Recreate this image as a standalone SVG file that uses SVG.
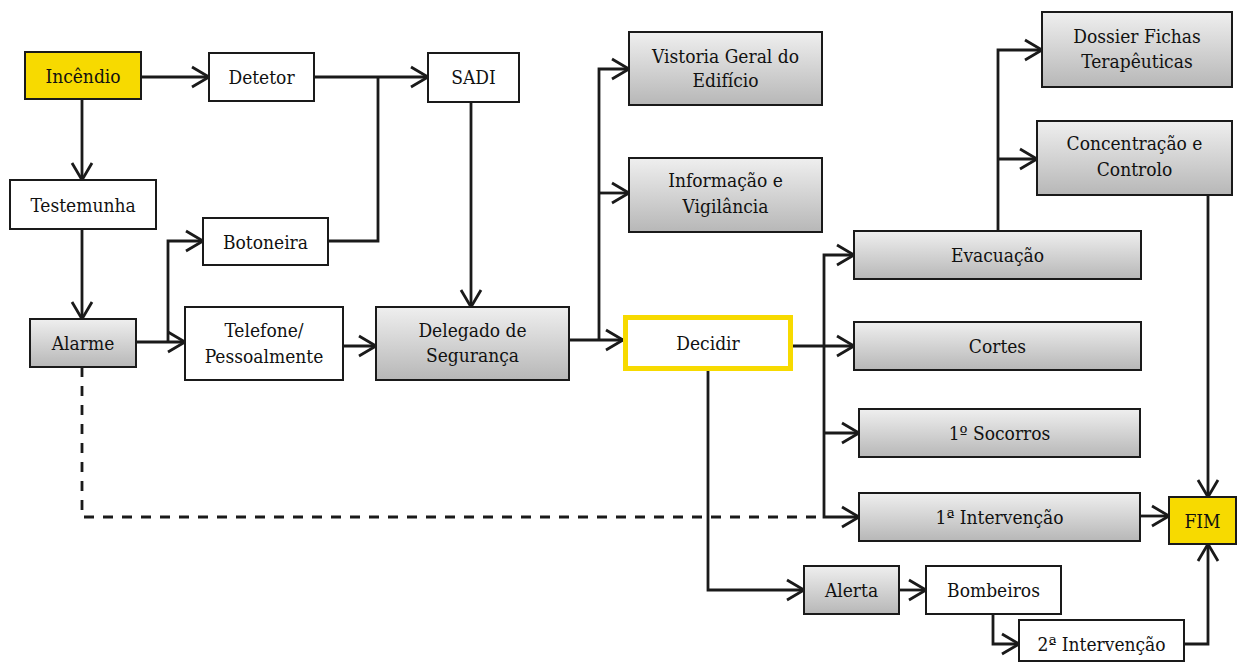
<svg xmlns="http://www.w3.org/2000/svg" width="1237" height="663" viewBox="0 0 1237 663">
<defs>
<linearGradient id="grey" x1="0" y1="0" x2="0" y2="1">
<stop offset="0" stop-color="#efefef"/>
<stop offset="1" stop-color="#b7b7b7"/>
</linearGradient>
<marker id="arr" viewBox="-2 -2 22 24" refX="17" refY="10" markerWidth="22" markerHeight="24" markerUnits="userSpaceOnUse" orient="auto" overflow="visible">
<path d="M0,0 L17,10 L0,20" fill="none" stroke="#1a1a1a" stroke-width="2.8"/>
</marker>
</defs>
<style>
.box{stroke:#1a1a1a;stroke-width:2;fill:#ffffff}
.g{fill:url(#grey)}
.y{fill:#f7da00}
.t{font-family:'DejaVu Serif Condensed','DejaVu Serif',serif;font-stretch:semi-condensed;font-size:19px;fill:#111;text-anchor:middle}
.c{fill:none;stroke:#1a1a1a;stroke-width:2.8}
.a{marker-end:url(#arr)}
.d{stroke-dasharray:10 9}
</style>
<rect width="1237" height="663" fill="#ffffff"/>
<g id="connectors">
<path class="c a" d="M141,77 H209"/>
<path class="c a" d="M82,99 V180"/>
<path class="c a" d="M82,229 V319"/>
<path class="c a" d="M314,77 H428"/>
<path class="c" d="M328,241 H378 V77"/>
<path class="c a" d="M136,342 H185"/>
<path class="c a" d="M168,342 V241 H203"/>
<path class="c a" d="M343,346 H376"/>
<path class="c a" d="M471,102 V307"/>
<path class="c a" d="M569,340 H623"/>
<path class="c a" d="M599,340 V69 H629"/>
<path class="c a" d="M599,193 H629"/>
<path class="c a" d="M793,346 H854"/>
<path class="c a" d="M824,346 V255 H854"/>
<path class="c a" d="M824,346 V517 H859"/>
<path class="c a" d="M824,433 H859"/>
<path class="c a" d="M998,231 V50 H1042"/>
<path class="c a" d="M998,159 H1037"/>
<path class="c a" d="M1208,195 V497"/>
<path class="c a" d="M1140,516 H1169"/>
<path class="c a" d="M708,371 V590 H804"/>
<path class="c a" d="M899,590 H926"/>
<path class="c a" d="M993,614 V644 H1019"/>
<path class="c a" d="M1184,644 H1208 V544"/>
<path class="c d" d="M82,367 V517 H824"/>
</g>
<g id="incendio"><rect class="box y" x="25" y="52" width="116" height="47"/><text class="t" x="83" y="83">Incêndio</text></g>
<g id="detetor"><rect class="box" x="209" y="53" width="105" height="48"/><text class="t" x="261.5" y="84">Detetor</text></g>
<g id="sadi"><rect class="box" x="428" y="53" width="91" height="49"/><text class="t" x="473.5" y="84">SADI</text></g>
<g id="testemunha"><rect class="box" x="10" y="180" width="146" height="49"/><text class="t" x="83" y="212">Testemunha</text></g>
<g id="botoneira"><rect class="box" x="203" y="218" width="125" height="47"/><text class="t" x="265.5" y="248.5">Botoneira</text></g>
<g id="alarme"><rect class="box g" x="30" y="319" width="106" height="48"/><text class="t" x="83" y="350">Alarme</text></g>
<g id="telefone"><rect class="box" x="185" y="307" width="158" height="73"/><text class="t" x="264" y="337">Telefone/</text><text class="t" x="264" y="363">Pessoalmente</text></g>
<g id="delegado"><rect class="box g" x="376" y="307" width="193" height="73"/><text class="t" x="472.5" y="337">Delegado de</text><text class="t" x="472.5" y="362">Segurança</text></g>
<g id="vistoria"><rect class="box g" x="629" y="32" width="193" height="73"/><text class="t" x="725.5" y="63">Vistoria Geral do</text><text class="t" x="725.5" y="87">Edifício</text></g>
<g id="informacao"><rect class="box g" x="629" y="158" width="193" height="74"/><text class="t" x="725.5" y="187">Informação e</text><text class="t" x="725.5" y="213">Vigilância</text></g>
<g id="decidir"><rect x="625.5" y="317.5" width="165" height="51" fill="#ffffff" stroke="#f7da00" stroke-width="5"/><text class="t" x="708" y="350">Decidir</text></g>
<g id="dossier"><rect class="box g" x="1042" y="12" width="190" height="75"/><text class="t" x="1137" y="43">Dossier Fichas</text><text class="t" x="1137" y="68">Terapêuticas</text></g>
<g id="concentracao"><rect class="box g" x="1037" y="121" width="195" height="74"/><text class="t" x="1134.5" y="150">Concentração e</text><text class="t" x="1134.5" y="176">Controlo</text></g>
<g id="evacuacao"><rect class="box g" x="854" y="231" width="287" height="48"/><text class="t" x="997.5" y="262">Evacuação</text></g>
<g id="cortes"><rect class="box g" x="854" y="322" width="287" height="48"/><text class="t" x="997.5" y="353">Cortes</text></g>
<g id="socorros"><rect class="box g" x="859" y="409" width="281" height="48"/><text class="t" x="999.5" y="440">1º Socorros</text></g>
<g id="intervencao1"><rect class="box g" x="859" y="493" width="281" height="48"/><text class="t" x="999.5" y="524">1ª Intervenção</text></g>
<g id="fim"><rect class="box y" x="1169" y="497" width="67" height="47"/><text class="t" x="1202.5" y="528">FIM</text></g>
<g id="alerta"><rect class="box g" x="804" y="566" width="95" height="48"/><text class="t" x="851.5" y="597">Alerta</text></g>
<g id="bombeiros"><rect class="box" x="926" y="566" width="135" height="48"/><text class="t" x="993.5" y="597">Bombeiros</text></g>
<g id="intervencao2"><rect class="box" x="1019" y="620" width="165" height="41"/><text class="t" x="1101.5" y="651">2ª Intervenção</text></g>
</svg>
